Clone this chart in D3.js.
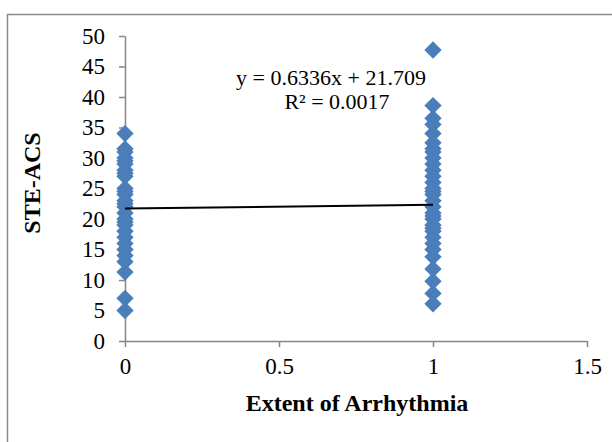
<!DOCTYPE html>
<html>
<head>
<meta charset="utf-8">
<script src="https://cdn.jsdelivr.net/npm/d3@7"></script>
<style>
  body { margin: 0; background: #fff; }
  text { font-family: "Liberation Serif", "Times New Roman", serif; fill: #000; }
</style>
</head>
<body>
<svg id="chart" width="612" height="442"></svg>
<script>
// Extent of arrhythmia = 0 group
var group0 = [34, 31.5, 31, 30, 29.5, 29, 28, 27.5, 27, 25, 24.5, 24, 23, 22.5, 22, 21, 20, 19.5, 19, 18, 17, 16, 15, 14, 13, 11.3, 7, 5];
// Extent of arrhythmia = 1 group
var group1 = [47.7, 38.6, 36.5, 35.5, 34, 32.5, 31.5, 31, 30, 29, 28, 27, 26, 25, 24.5, 24, 23, 22, 21, 20.5, 20, 19, 18.5, 18, 17, 16, 15, 13.8, 11.8, 9.8, 7.8, 6.1];
var xTicks = [0, 0.5, 1, 1.5];
var yTicks = [0, 5, 10, 15, 20, 25, 30, 35, 40, 45, 50];
var slope = 0.6336, intercept = 21.709;
var eqLabel = 'y = 0.6336x  + 21.709';
var r2Label = 'R\u00b2 = 0.0017';

var points = [];
group0.forEach(function (v) { points.push({ x: 0, y: v }); });
group1.forEach(function (v) { points.push({ x: 1, y: v }); });

var svg = d3.select('#chart');

// chart frame (runs off the right and bottom)
svg.append('rect')
  .attr('x', 7.5).attr('y', 14.5)
  .attr('width', 640).attr('height', 460)
  .attr('fill', 'none')
  .attr('stroke', '#8a8a8a')
  .attr('stroke-width', 1.5);

var x = d3.scaleLinear().domain([0, 1.5]).range([125, 587]);
var y = d3.scaleLinear().domain([0, 50]).range([341, 36]);

var axisColor = '#868686';
var tickFont = '23px';

var gx = svg.append('g')
  .attr('transform', 'translate(0,' + y(0) + ')')
  .call(d3.axisBottom(x).tickValues(xTicks).tickSize(6).tickSizeOuter(0).tickPadding(11)
    .tickFormat(function (d) { return String(d); }));
gx.select('.domain').attr('stroke', axisColor).attr('stroke-width', 1.5);
gx.selectAll('.tick line').attr('stroke', axisColor).attr('stroke-width', 1.5);
gx.selectAll('.tick text').style('font-size', tickFont).style('font-family', '"Liberation Serif", serif');

var gy = svg.append('g')
  .attr('transform', 'translate(' + x(0) + ',0)')
  .call(d3.axisLeft(y).tickValues(yTicks).tickSize(6).tickSizeOuter(0).tickPadding(14));
gy.select('.domain').attr('stroke', axisColor).attr('stroke-width', 1.5);
gy.selectAll('.tick line').attr('stroke', axisColor).attr('stroke-width', 1.5);
gy.selectAll('.tick text').style('font-size', tickFont).style('font-family', '"Liberation Serif", serif');

// markers
var diamond = d3.symbol().type(d3.symbolSquare).size(150);
svg.append('g').selectAll('path')
  .data(points)
  .enter().append('path')
  .attr('d', diamond)
  .attr('transform', function (d) {
    return 'translate(' + x(d.x) + ',' + y(d.y) + ') rotate(45)';
  })
  .attr('fill', '#4a7ebb');

// linear trendline
svg.append('line')
  .attr('x1', x(0)).attr('y1', y(intercept))
  .attr('x2', x(1)).attr('y2', y(slope + intercept))
  .attr('stroke', '#000')
  .attr('stroke-width', 2);

svg.append('text')
  .attr('x', 331).attr('y', 85)
  .attr('text-anchor', 'middle')
  .style('font-size', '22px')
  .text(eqLabel);
svg.append('text')
  .attr('x', 337).attr('y', 109)
  .attr('text-anchor', 'middle')
  .style('font-size', '22px')
  .text(r2Label);

// axis titles
svg.append('text')
  .attr('x', 357).attr('y', 411)
  .attr('text-anchor', 'middle')
  .style('font-size', '24px')
  .style('font-weight', 'bold')
  .text('Extent of Arrhythmia');
svg.append('text')
  .attr('transform', 'translate(40,183) rotate(-90)')
  .attr('text-anchor', 'middle')
  .style('font-size', '24px')
  .style('font-weight', 'bold')
  .text('STE-ACS');
</script>
</body>
</html>
